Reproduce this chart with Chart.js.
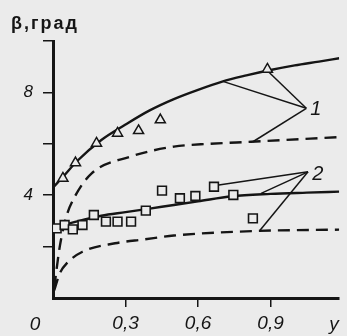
<!DOCTYPE html>
<html>
<head>
<meta charset="utf-8">
<script src="https://cdn.jsdelivr.net/npm/chart.js@4/dist/chart.umd.min.js"></script>
<style>
  html, body { margin: 0; padding: 0; background: #ebebeb; }
  canvas { display: block; }
</style>
</head>
<body>
<canvas id="chart" width="347" height="336"></canvas>
<script>
// curve 1 (solid) and its measured points (triangles)
const solid1X = [0, 0.04, 0.1, 0.2, 0.3, 0.4, 0.5, 0.6, 0.7, 0.8, 0.9, 1.0, 1.1, 1.184];
const solid1Y = [4.3, 4.7, 5.33, 6.15, 6.75, 7.3, 7.74, 8.1, 8.42, 8.66, 8.87, 9.05, 9.2, 9.33];
const dash1X = [0.005, 0.028, 0.055, 0.09, 0.16, 0.32, 0.5, 0.65, 0.82, 1.184];
const dash1Y = [0.4, 2.0, 3.16, 3.94, 4.85, 5.5, 5.89, 6.0, 6.08, 6.26];
const triX = [0.041, 0.093, 0.18, 0.267, 0.354, 0.444, 0.887];
const triY = [4.66, 5.26, 6.02, 6.41, 6.51, 6.93, 8.9];

// curve 2 (solid) and its measured points (squares)
const solid2X = [0, 0.1, 0.2, 0.3, 0.4, 0.5, 0.6, 0.74, 0.9, 1.05, 1.184];
const solid2Y = [2.72, 2.98, 3.2, 3.34, 3.48, 3.62, 3.76, 3.96, 4.05, 4.1, 4.14];
const dash2X = [0.005, 0.028, 0.06, 0.122, 0.257, 0.377, 0.5, 0.85, 1.184];
const dash2Y = [0.3, 0.96, 1.38, 1.8, 2.13, 2.28, 2.43, 2.61, 2.66];
const sqX = [0.015, 0.048, 0.082, 0.122, 0.169, 0.219, 0.267, 0.323, 0.384, 0.451, 0.525, 0.589, 0.666, 0.746, 0.827];
const sqY = [2.71, 2.84, 2.67, 2.84, 3.23, 2.97, 2.97, 2.97, 3.40, 4.18, 3.88, 3.97, 4.33, 4.01, 3.10];

// leader lines to the curve numbers
const hub1 = [1.048, 7.38];
const lead1X = [0.706, 0.887, 0.827];
const lead1Y = [8.42, 8.84, 6.08];
const hub2 = [1.055, 4.91];
const lead2X = [0.686, 0.861, 0.854];
const lead2Y = [4.40, 4.07, 2.61];
const curveNames = ["1", "2"];
const nameX = [1.087, 1.095];
const nameY = [7.32, 4.79];

const yTicks = [2, 4, 6, 8, 10];
const yLabels = [4, 8];
const xTicks = [0.3, 0.6, 0.9];

const ink = "#151515";
const bg = "#ebebeb";

function pts(xs, ys) {
    return xs.map((x, i) => ({ x: x, y: ys[i] }));
}

function curve(xs, ys, dashed) {
    return {
        type: "line",
        data: pts(xs, ys),
        borderColor: ink,
        borderWidth: 2.4,
        borderDash: dashed ? [12, 7] : [],
        pointRadius: 0,
        cubicInterpolationMode: "monotone",
        fill: false,
        order: 2
    };
}

function leaders(hub, xs, ys) {
    return xs.map((x, i) => ({
        type: "line",
        data: [{ x: hub[0], y: hub[1] }, { x: x, y: ys[i] }],
        borderColor: ink,
        borderWidth: 1.5,
        pointRadius: 0,
        order: 1
    }));
}

const datasets = [
    curve(solid1X, solid1Y, false),
    curve(dash1X, dash1Y, true),
    curve(solid2X, solid2Y, false),
    curve(dash2X, dash2Y, true),
    ...leaders(hub1, lead1X, lead1Y),
    ...leaders(hub2, lead2X, lead2Y),
    {
        type: "scatter",
        data: pts(triX, triY),
        pointStyle: "triangle",
        pointRadius: 5.8,
        pointBorderWidth: 1.5,
        pointBorderColor: ink,
        pointBackgroundColor: bg,
        order: 0
    },
    {
        type: "scatter",
        data: pts(sqX, sqY),
        pointStyle: "rect",
        pointRadius: 6.2,
        pointBorderWidth: 1.6,
        pointBorderColor: ink,
        pointBackgroundColor: bg,
        order: 0
    }
];

const textPlugin = {
    id: "texts",
    afterDraw(chart) {
        const ctx = chart.ctx;
        const sx = chart.scales.x, sy = chart.scales.y;
        ctx.save();
        ctx.fillStyle = ink;
        ctx.textBaseline = "alphabetic";
        ctx.textAlign = "left";
        ctx.font = 'bold 18px "Liberation Sans"';
        ctx.letterSpacing = "2px";
        ctx.fillText("β,град", 11, 29);
        ctx.letterSpacing = "0px";
        ctx.font = 'italic 19px "Liberation Sans"';
        ctx.textAlign = "center";
        ctx.fillText("0", 35, 330);
        ctx.fillText("y", 334, 330);
        ctx.font = 'italic 20px "Liberation Sans"';
        ctx.textBaseline = "middle";
        curveNames.forEach((t, i) => {
            ctx.fillText(t, sx.getPixelForValue(nameX[i]), sy.getPixelForValue(nameY[i]));
        });
        ctx.restore();
    }
};

new Chart(document.getElementById("chart"), {
    type: "scatter",
    data: { datasets: datasets },
    options: {
        responsive: false,
        animation: false,
        devicePixelRatio: 1,
        layout: { padding: { top: 41, right: 0, left: 0, bottom: 0 } },
        plugins: { legend: { display: false }, tooltip: { enabled: false } },
        scales: {
            x: {
                type: "linear",
                min: 0,
                max: 1.184,
                afterBuildTicks: s => { s.ticks = xTicks.map(v => ({ value: v })); },
                afterFit: s => { s.height = 38; },
                border: { color: ink, width: 3 },
                grid: { drawOnChartArea: false, color: ink, lineWidth: 1.5, tickLength: 9 },
                ticks: {
                    color: ink,
                    padding: 5,
                    maxRotation: 0,
                    font: { family: "Liberation Sans", style: "italic", size: 19 },
                    callback: v => String(v).replace(".", ",")
                }
            },
            y: {
                type: "linear",
                min: 0,
                max: 10,
                afterBuildTicks: s => { s.ticks = yTicks.map(v => ({ value: v })); },
                afterFit: s => { s.width = 53; },
                border: { color: ink, width: 3 },
                grid: { drawOnChartArea: false, color: ink, lineWidth: 1.5, tickLength: 10 },
                ticks: {
                    color: ink,
                    padding: 10,
                    font: { family: "Liberation Sans", style: "italic", size: 17 },
                    callback: v => (yLabels.includes(v) ? String(v) : "")
                }
            }
        }
    },
    plugins: [textPlugin]
});
</script>
</body>
</html>
